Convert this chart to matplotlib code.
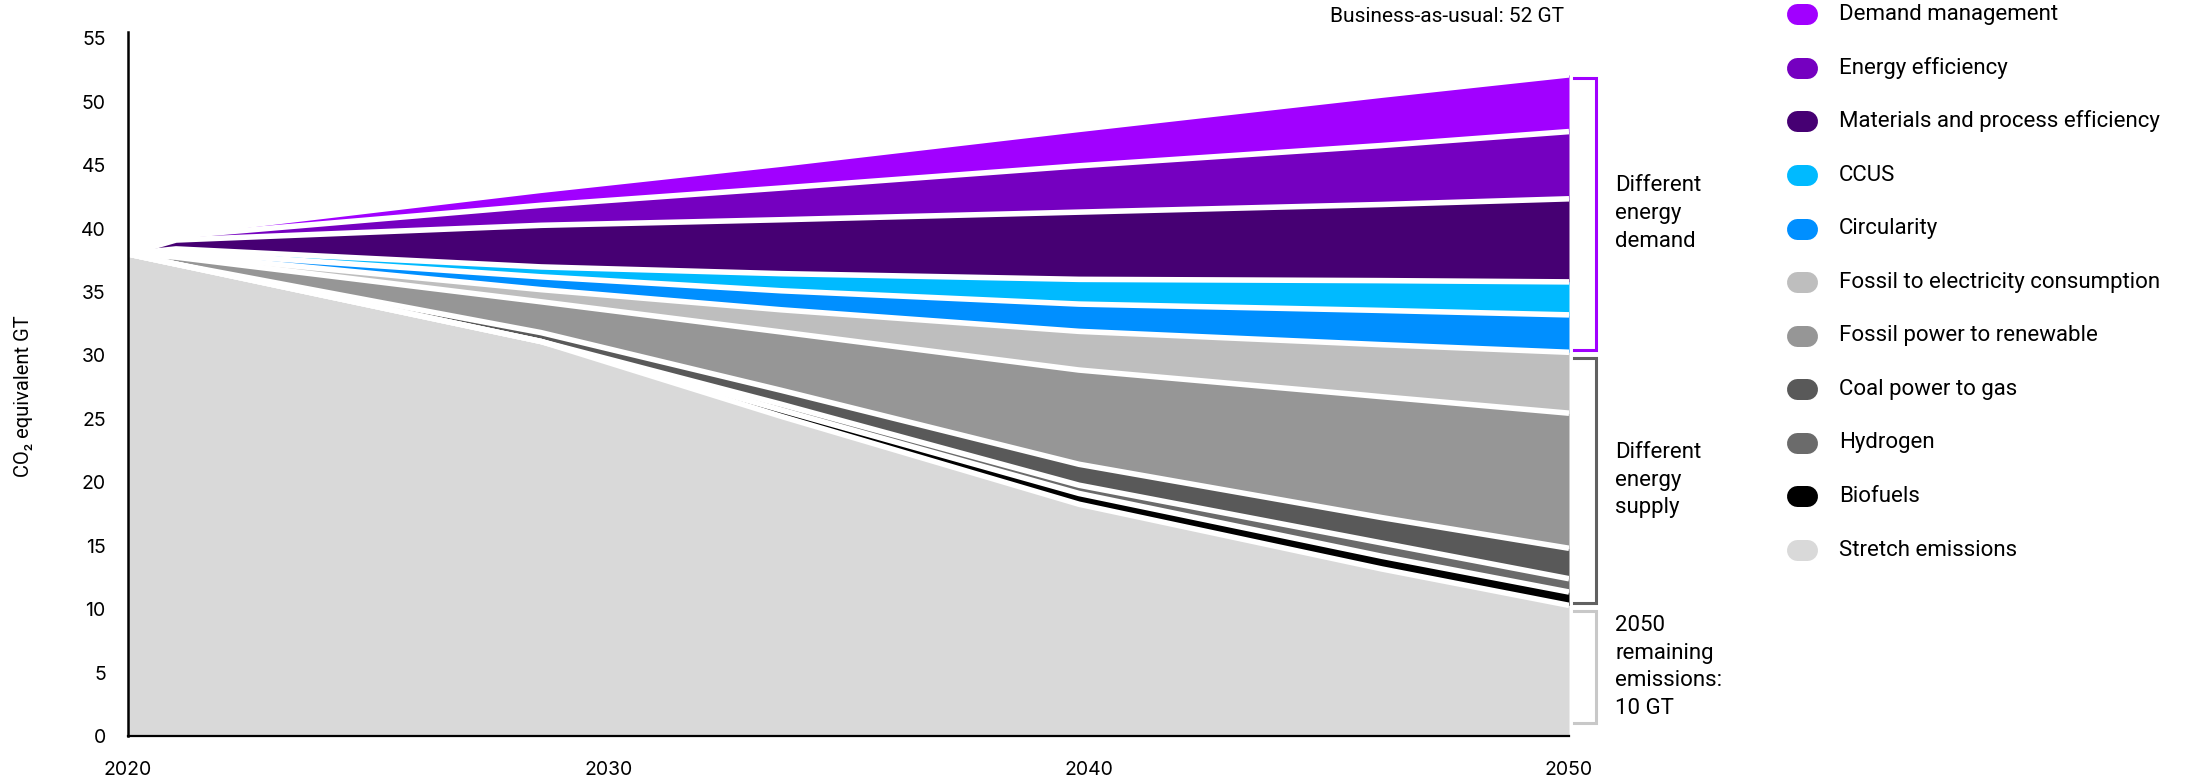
import numpy as np
import matplotlib.pyplot as plt
from matplotlib.lines import Line2D

W, H, DPI = 2193, 782, 100

years = [2020, 2021, 2028.6, 2033.6, 2039.8, 2046.1, 2050]

# band thickness in GT CO2e, listed from the bottom of the stack upwards
stretch = [38.0, 37.2, 31.1, 25.2, 18.27, 13.17, 10.3]
biofuels = [0, 0, 0, 0.5, 0.85, 1.0, 1.05]
hydrogen = [0, 0, 0, 0.45, 0.65, 1.05, 1.05]
coal_gas = [0, 0, 0.7, 1.1, 1.65, 2.0, 2.4]
fossil_renew = [0, 0.55, 2.43, 4.6, 7.43, 9.53, 10.65]
fossil_elec = [0, 0.2, 0.96, 1.75, 3.05, 4.1, 4.8]
circularity = [0, 0.2, 1.01, 1.5, 2.15, 2.7, 2.95]
ccus = [0, 0.25, 0.78, 1.35, 1.95, 2.35, 2.6]
materials = [0, 0.7, 3.28, 4.25, 5.3, 6.0, 6.55]
efficiency = [0, 0.3, 1.58, 2.5, 3.65, 4.65, 5.3]
demand = [0, 0.2, 1.18, 1.88, 2.87, 3.97, 4.47]

bands = [stretch, biofuels, hydrogen, coal_gas, fossil_renew, fossil_elec,
         circularity, ccus, materials, efficiency, demand]
names = ["Stretch emissions", "Biofuels", "Hydrogen", "Coal power to gas",
         "Fossil power to renewable", "Fossil to electricity consumption",
         "Circularity", "CCUS", "Materials and process efficiency",
         "Energy efficiency", "Demand management"]
colors = ["#D9D9D9", "#000000", "#6B6B6B", "#595959", "#969696", "#BEBEBE",
          "#008FFF", "#00BAFF", "#460073", "#7500C0", "#A100FF"]

bau_label = "Business-as-usual: 52 GT"
xticks = [2020, 2030, 2040, 2050]
yticks = list(range(0, 56, 5))

plt.rcParams['font.family'] = ['Roboto', 'DejaVu Sans']

fig = plt.figure(figsize=(W / DPI, H / DPI), dpi=DPI)
ax = fig.add_axes([128 / W, 46 / H, 1441 / W, 704 / H])

x = np.array(years)
tops = np.cumsum(np.array(bands), axis=0)
bottoms = np.vstack([np.zeros(len(x)), tops[:-1]])

for lo, hi, c in zip(bottoms, tops, colors):
    ax.fill_between(x, lo, hi, color=c, lw=0, zorder=1)

# white separators between the wedges
gap = 4.0
for hi in tops:
    ax.plot(x, hi, color="white", lw=gap, solid_capstyle="butt", zorder=2)

ax.set_xlim(2020, 2050)
ax.set_ylim(0, 55.5)
ax.set_xticks(xticks)
ax.set_yticks(yticks)
ax.tick_params(length=0)
ax.tick_params(axis="x", pad=18, labelsize=14)
ax.tick_params(axis="y", pad=16, labelsize=14)
for t in ax.get_xticklabels() + ax.get_yticklabels():
    t.set_fontfamily(['Inter', 'DejaVu Sans'])
for s in ["top", "right"]:
    ax.spines[s].set_visible(False)
ax.spines["left"].set_linewidth(1.8)
ax.spines["bottom"].set_linewidth(1.6)
ax.spines["left"].set_zorder(3)
ax.spines["bottom"].set_zorder(3)

ax.set_ylabel("CO₂ equivalent GT", fontsize=14.5)
ax.yaxis.set_label_coords(-0.066, 0.483)

half = gap / 72 * DPI / 2 / (704 / 55.5)  # half separator width in GT
top_2050 = tops[:, -1]


def bracket(y_top, y_bot, color, text):
    bx0, bx1 = 2050.1, 2050.56
    ax.plot([bx0, bx1, bx1, bx0], [y_top, y_top, y_bot, y_bot], color=color,
            lw=2.2, clip_on=False, solid_joinstyle="miter", zorder=4)
    ax.text(2050.96, (y_top + y_bot) / 2, text, fontsize=16, va="center",
            ha="left", linespacing=1.42, clip_on=False)


bracket(top_2050[10] - half, top_2050[5] + half, "#A100FF",
        "Different\nenergy\ndemand")
bracket(top_2050[5] - half - 0.2, top_2050[0] + half, "#616161",
        "Different\nenergy\nsupply")
bracket(top_2050[0] - half - 0.2, 1.0, "#C8C8C8",
        "2050\nremaining\nemissions:\n10 GT")

fig.text(1564 / W, 1 - 17 / H, bau_label, fontsize=15, ha="right", va="center")

# legend, top to bottom
for i, k in enumerate(range(len(names) - 1, -1, -1)):
    yc = 1 - (14.3 + i * 53.57) / H
    fig.add_artist(Line2D([1797 / W, 1807 / W], [yc, yc], color=colors[k],
                          lw=21 * 72 / DPI, solid_capstyle="round",
                          transform=fig.transFigure))
    fig.text(1839 / W, yc, names[k], fontsize=16, va="center", ha="left")

fig.savefig("out.png", dpi=DPI)
